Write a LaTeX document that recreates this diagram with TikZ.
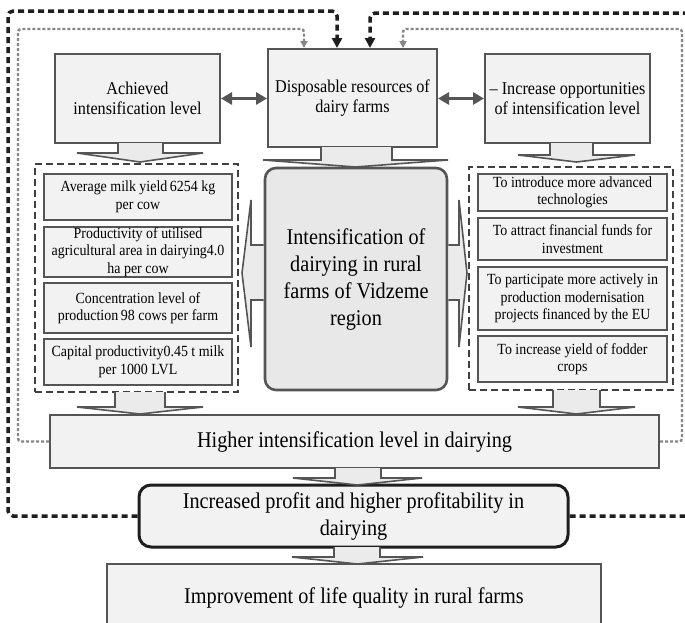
\documentclass[tikz,border=0pt]{standalone}
\usepackage{fontspec}
\setmainfont{Liberation Serif}[FakeStretch=0.9]
\usetikzlibrary{arrows.meta}
\definecolor{boxfill}{HTML}{F2F2F2}
\definecolor{intfill}{HTML}{E8E8E8}
\definecolor{arrfill}{HTML}{EBEBEB}
\definecolor{edge}{HTML}{555555}
\definecolor{dk}{HTML}{1E1E1E}
\definecolor{dotc}{HTML}{868686}
\newcommand\blockdown[7]{%
  \filldraw[blockarrow] (#1,#3) -- (#1,#4) -- (#5,#4) -- ({(#5+#6)/2},#7) -- (#6,#4) -- (#2,#4) -- (#2,#3);}
\tikzset{
  topbox/.style={draw=edge, line width=2pt, fill=boxfill, inner sep=0pt, align=center, font=\fontsize{18}{20.5}\selectfont},
  inbox/.style={draw=edge, line width=1.3pt, fill=boxfill, inner sep=0pt, align=center, font=\fontsize{15.5}{17.5}\selectfont},
  container/.style={draw=dk!85, line width=1.4pt, dash pattern=on 7pt off 4pt, inner sep=0pt},
  bigbox/.style={draw=edge, line width=2pt, fill=boxfill, inner sep=0pt, align=center, font=\fontsize{22.5}{27}\selectfont},
  blockarrow/.style={draw=edge, line width=1.6pt, fill=arrfill, line join=miter},
  feedback/.style={draw=dk, line width=3.5pt, dash pattern=on 6pt off 4pt, rounded corners=5pt, -{Triangle[length=10pt,width=10pt]}},
  dotfb/.style={draw=dotc, line width=2.4pt, dash pattern=on 3pt off 2pt, rounded corners=3pt, -{Triangle[length=7pt,width=7pt]}},
  dbl/.style={draw=edge, line width=3pt, {Triangle[length=11pt,width=12pt]}-{Triangle[length=11pt,width=12pt]}}
}
\begin{document}
\begin{tikzpicture}[x=1pt,y=-1pt]
\useasboundingbox (0,0) rectangle (685,622);
\clip (0,0) rectangle (685,622);
\fill[white] (0,0) rectangle (685,622);
% top row
\node[topbox, minimum width=165, minimum height=89] (ach) at (137.5,98.5) {Achieved\\intensification level};
\node[topbox, minimum width=169, minimum height=98] (disp) at (352.5,98) {Disposable resources of\\dairy farms};
\node[topbox, minimum width=165, minimum height=89] (inc) at (567.5,98.5) {-- Increase opportunities\\of intensification level};
% containers
\node[container, minimum width=203, minimum height=228] (lc) at (136.5,278) {};
\node[container, minimum width=204, minimum height=223] (rc) at (571,278.5) {};
% left inner boxes
\node[inbox, minimum width=188, minimum height=46] (l1) at (138,197) {Average milk yield\,6254 kg\\per cow};
\node[inbox, minimum width=188, minimum height=50] (l2) at (138,252) {Productivity of utilised\\agricultural area in dairying4.0\\ha per cow};
\node[inbox, minimum width=188, minimum height=50] (l3) at (138,308) {Concentration level of\\production\,98 cows per farm};
\node[inbox, minimum width=188, minimum height=46] (l4) at (138,362) {Capital productivity0.45 t milk\\per 1000 LVL};
% right inner boxes
\node[inbox, minimum width=189, minimum height=37] (r1) at (572.5,192.5) {To introduce more advanced\\technologies};
\node[inbox, minimum width=189, minimum height=42] (r2) at (572.5,239) {To attract financial funds for\\investment};
\node[inbox, minimum width=189, minimum height=63] (r3) at (572.5,298.5) {To participate more actively in\\production modernisation\\projects financed by the EU};
\node[inbox, minimum width=189, minimum height=46] (r4) at (572.5,359) {To increase yield of fodder\\crops};
% central box
\node[bigbox, fill=intfill, line width=2.6pt, rounded corners=11pt, minimum width=182, minimum height=222] (int) at (356,279) {Intensification of\\dairying in rural\\farms of Vidzeme\\region};
% lower boxes
\node[bigbox, minimum width=609, minimum height=53] (high) at (354.5,441.5) {Higher intensification level in dairying};
\node[bigbox, draw=dk, line width=3pt, rounded corners=12pt, minimum width=429, minimum height=62] (prof) at (353.5,516) {Increased profit and higher profitability in\\dairying};
\node[bigbox, minimum width=494, minimum height=68] (impr) at (354,598) {Improvement of life quality in rural farms};
% block arrows
\blockdown{118}{163}{143}{153}{77}{203}{162}
\blockdown{321}{392}{147}{160}{263}{448}{167}
\blockdown{550}{593}{143}{155}{518}{635}{162}
\blockdown{115}{165}{392}{407}{77}{203}{414}
\blockdown{553}{600}{390}{407}{518}{635}{414}
\blockdown{335}{381}{468}{478}{293}{422}{485}
\blockdown{334}{380}{547}{557}{292}{423}{564}
\filldraw[blockarrow] (int.west |- 0,245) -- (251,245) -- (251,200) -- (242,273) -- (251,347) -- (251,300) -- (int.west |- 0,300);
\filldraw[blockarrow] (int.east |- 0,245) -- (459,245) -- (459,200) -- (467,273) -- (459,347) -- (459,300) -- (int.east |- 0,300);
% double arrows
\draw[dbl] (ach.east) -- (disp.west |- ach.east);
\draw[dbl] (disp.east |- inc.west) -- (inc.west);
% feedback loops
\coordinate (bl) at (8,11);
\coordinate (br) at (337,11);
\coordinate (cr) at (700,13);
\coordinate (cl) at (370,13);
\coordinate (gl) at (18,29);
\coordinate (gla) at (304,29);
\coordinate (gr) at (682,29);
\coordinate (gra) at (403,29);
\draw[feedback] (prof.west) -| (bl) -- (br) -- (br |- disp.north);
\draw[feedback] (prof.east) -| (cr) -- (cl) -- (cl |- disp.north);
\draw[dotfb] (high.west) -| (gl) -- (gla) -- (gla |- disp.north);
\draw[dotfb] (high.east) -| (gr) -- (gra) -- (gra |- disp.north);
\end{tikzpicture}
\end{document}
